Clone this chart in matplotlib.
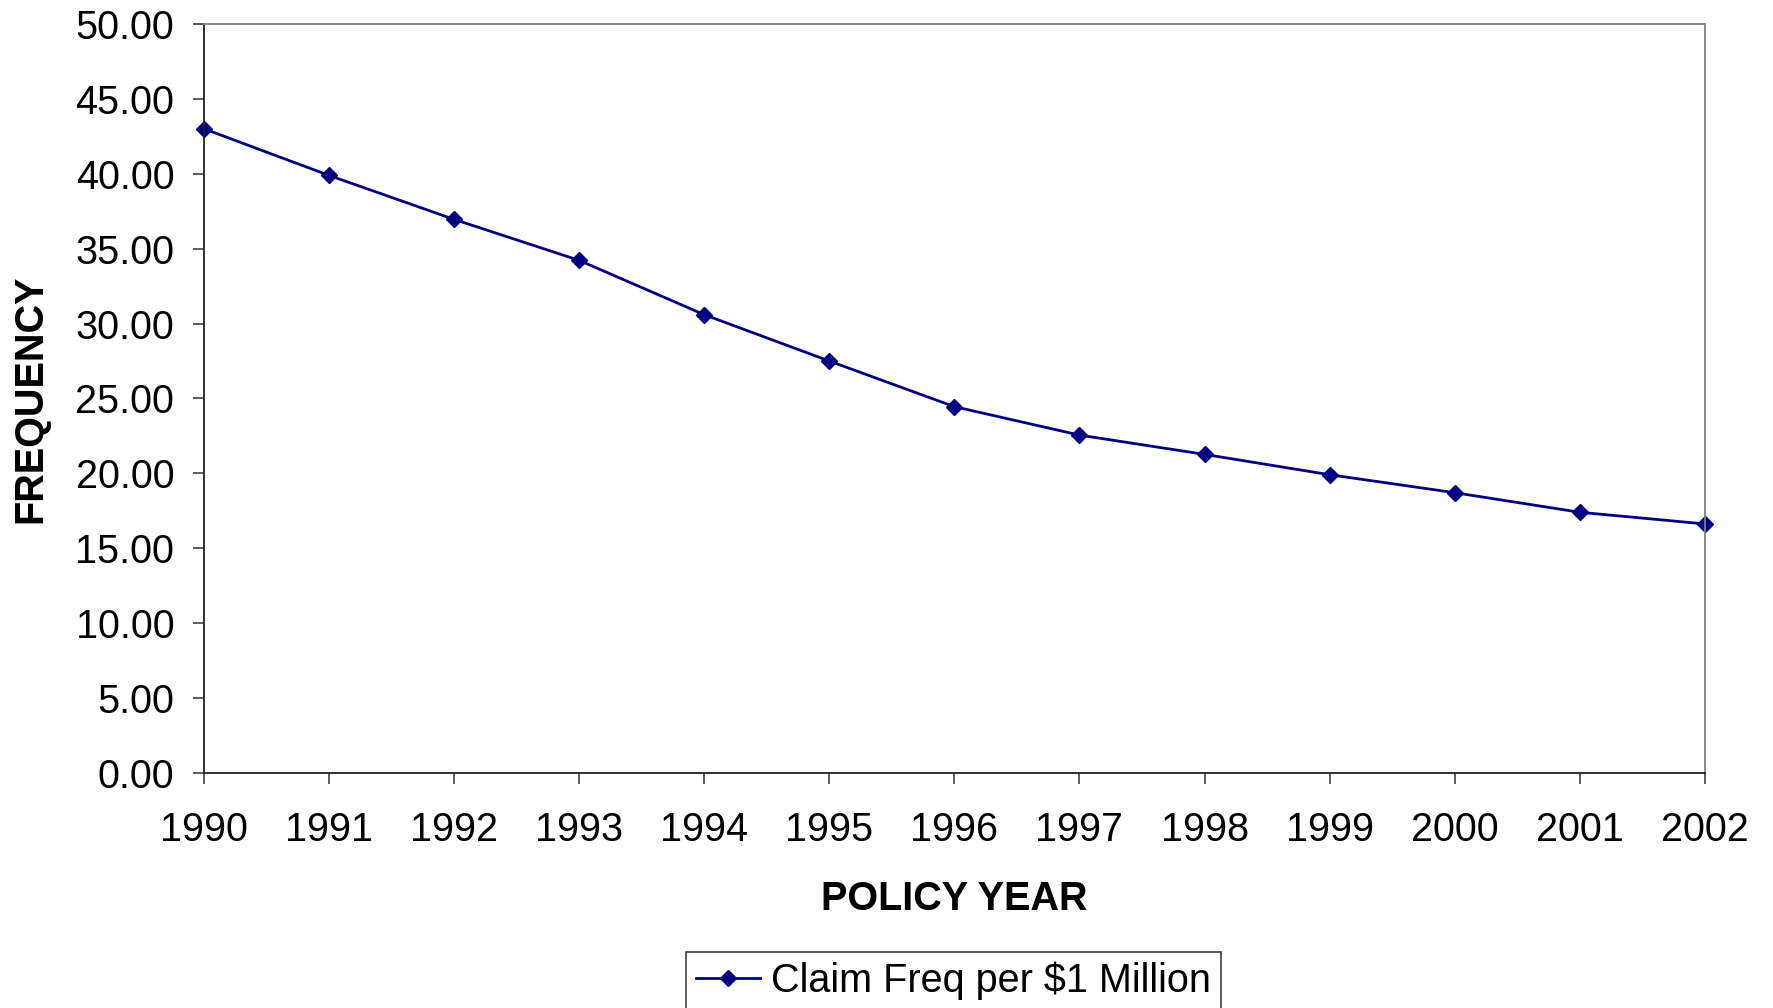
import matplotlib
matplotlib.use("Agg")
import matplotlib.pyplot as plt
import numpy as np

years = [1990, 1991, 1992, 1993, 1994, 1995, 1996, 1997, 1998, 1999, 2000, 2001, 2002]
claim_freq = [43.03, 39.91, 36.97, 34.23, 30.60, 27.50, 24.45, 22.55, 21.26, 19.90, 18.70, 17.39, 16.61]
y_ticks = np.arange(0, 50.01, 5)

plt.rcParams["font.family"] = ["Liberation Sans", "DejaVu Sans"]
navy = "#000080"

fig = plt.figure(figsize=(17.73, 10.08), dpi=100)
ax = fig.add_axes([0.1148, 0.2336, 0.9617 - 0.1148, 0.9759 - 0.2336])

ax.plot(years, claim_freq, color=navy, linewidth=2.0, marker="D", markersize=8.5,
        markerfacecolor=navy, markeredgecolor=navy, clip_on=False,
        label="Claim Freq per $1 Million")

ax.set_xlim(1990, 2002)
ax.set_ylim(0, 50)
ax.set_xticks(years)
ax.set_xticklabels([str(y) for y in years])
ax.set_yticks(y_ticks)
ax.set_yticklabels(["%.2f" % v for v in y_ticks])

ax.tick_params(axis="both", labelsize=28.5, direction="out", length=8, width=1.2, color="#404040")
ax.tick_params(axis="x", pad=20)
ax.tick_params(axis="y", pad=13)

for side in ["left", "bottom"]:
    ax.spines[side].set_color("#202020")
    ax.spines[side].set_linewidth(1.3)
for side in ["top", "right"]:
    ax.spines[side].set_color("#808080")
    ax.spines[side].set_linewidth(1.3)

ax.set_xlabel("POLICY YEAR", fontsize=28.5, fontweight="bold")
ax.set_ylabel("FREQUENCY", fontsize=28.5, fontweight="bold")
ax.xaxis.set_label_coords(0.5, -0.1437)
ax.yaxis.set_label_coords(-0.1152, 0.5)
ax.xaxis.label.set_va("top")
ax.yaxis.label.set_va("center")

leg = fig.legend(loc="upper center", bbox_to_anchor=(0.538, 0.0556), fontsize=28.5,
                 frameon=True, fancybox=False, edgecolor="#404040", framealpha=1,
                 handlelength=1.6, handletextpad=0.3, borderpad=0.25, borderaxespad=0)
leg.get_frame().set_linewidth(1.2)

fig.savefig("out.png", dpi=100)
